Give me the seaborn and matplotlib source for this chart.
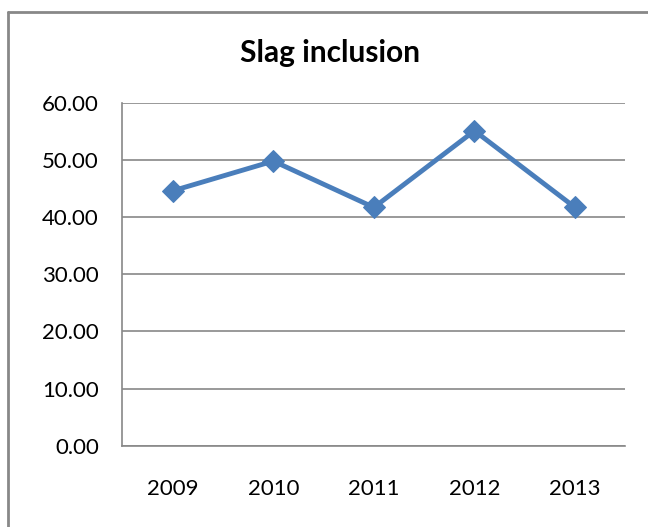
import pandas as pd
import numpy as np
import seaborn as sns
import matplotlib.pyplot as plt
from matplotlib.lines import Line2D
from matplotlib.ticker import FixedLocator, FormatStrFormatter

# data
years = ['2009', '2010', '2011', '2012', '2013']
slag = [44.6, 49.8, 41.7, 55.1, 41.7]

df = pd.DataFrame({'year': years, 'slag': slag})

sns.set_style('white')
plt.rcParams['font.family'] = ['Lato', 'DejaVu Sans']

fig = plt.figure(figsize=(6.48, 5.27), dpi=100)
ax = fig.add_axes([0.189, 0.154, 0.776, 0.651])

sns.lineplot(data=df, x='year', y='slag', ax=ax, color='#4A7EBB', lw=3.5,
             marker='D', markersize=11, markeredgecolor='#4A7EBB', sort=False)

ax.set_xlim(-0.5, len(years) - 0.5)
ax.set_ylim(0, 60)
ax.set_yticks(np.arange(0, 61, 10))
ax.yaxis.set_major_formatter(FormatStrFormatter('%.2f'))
ax.grid(axis='y', color='#888888', lw=1.2)
ax.set_axisbelow(True)

# category separators on x axis, like the spreadsheet chart
ax.xaxis.set_minor_locator(FixedLocator(np.arange(-0.5, len(years), 1)))
ax.tick_params(axis='x', which='major', length=0, pad=24, labelsize=16, labelcolor='black')
ax.tick_params(axis='x', which='minor', length=5, width=1.2, color='#888888', direction='out')
ax.tick_params(axis='y', length=5, width=1.2, color='#888888', direction='out', pad=12,
               labelsize=16, labelcolor='black')

for s in ['top', 'right']:
    ax.spines[s].set_visible(False)
for s in ['left', 'bottom']:
    ax.spines[s].set_color('#888888')
    ax.spines[s].set_linewidth(1.2)

ax.set_xlabel('')
ax.set_ylabel('')
fig.text(0.51, 0.899, 'Slag inclusion', ha='center', va='center',
         fontsize=21.5, fontweight='bold', color='black')

# outer chart border (only left and top edges fall inside the image)
fig.add_artist(Line2D([0.0116, 0.0116], [0.0, 0.978], transform=fig.transFigure,
                      color='#888888', lw=2))
fig.add_artist(Line2D([0.0116, 1.0], [0.978, 0.978], transform=fig.transFigure,
                      color='#888888', lw=2))

plt.savefig('out.png', dpi=100)
